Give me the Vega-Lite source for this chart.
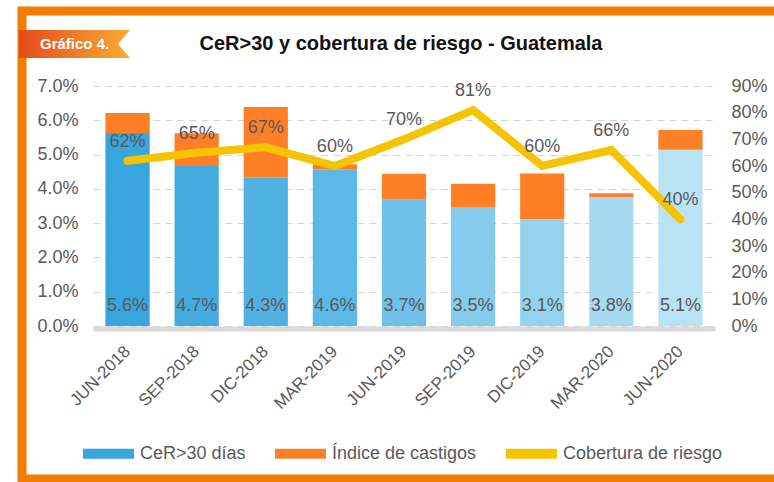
{
  "$schema": "https://vega.github.io/schema/vega-lite/v6.json",
  "width": 758,
  "height": 468,
  "autosize": {"type": "none"},
  "padding": {"left": 22, "top": 11, "right": -6, "bottom": 3},
  "background": "white",
  "config": {
    "view": {"stroke": "#f07d00", "strokeWidth": 9, "fill": "white"},
    "font": "Liberation Sans"
  },
  "title": {
    "text": "CeR>30 y cobertura de riesgo - Guatemala",
    "frame": "group",
    "anchor": "middle",
    "offset": -62,
    "dy": 20,
    "baseline": "alphabetic",
    "font": "Liberation Sans",
    "fontSize": 20,
    "fontWeight": "bold",
    "color": "#111111"
  },
  "data": {
    "values": [
      {"periodo": "JUN-2018", "cer": 0.0563, "castigos": 0.0058, "cob": 0.62},
      {"periodo": "SEP-2018", "cer": 0.0467, "castigos": 0.0095, "cob": 0.65},
      {"periodo": "DIC-2018", "cer": 0.0434, "castigos": 0.0205, "cob": 0.67},
      {"periodo": "MAR-2019", "cer": 0.0457, "castigos": 0.0015, "cob": 0.60},
      {"periodo": "JUN-2019", "cer": 0.0370, "castigos": 0.0074, "cob": 0.70},
      {"periodo": "SEP-2019", "cer": 0.0347, "castigos": 0.0068, "cob": 0.81},
      {"periodo": "DIC-2019", "cer": 0.0311, "castigos": 0.0134, "cob": 0.60},
      {"periodo": "MAR-2020", "cer": 0.0376, "castigos": 0.0011, "cob": 0.66},
      {"periodo": "JUN-2020", "cer": 0.0514, "castigos": 0.0058, "cob": 0.40}
    ]
  },
  "layer": [
    {
      "layer": [
        {
          "transform": [{"fold": ["cer", "castigos"], "as": ["serie", "valor"]}],
          "mark": {"type": "bar"},
          "encoding": {
            "x": {
              "field": "periodo",
              "type": "nominal",
              "scale": {
                "domain": ["JUN-2018", "SEP-2018", "DIC-2018", "MAR-2019", "JUN-2019", "SEP-2019", "DIC-2019", "MAR-2020", "JUN-2020"],
                "range": [71, 693],
                "paddingInner": 0.36,
                "paddingOuter": 0.18
              },
              "axis": {
                "title": null,
                "orient": "bottom",
                "offset": -150.5,
                "domainColor": "#d9d9d9",
                "domainWidth": 5,
                "ticks": false,
                "grid": false,
                "labelAngle": -45,
                "labelAlign": "right",
                "labelBaseline": "middle",
                "labelPadding": 20,
                "labelFontSize": 17,
                "labelColor": "#595959",
                "labelFont": "Liberation Sans"
              }
            },
            "y": {
              "field": "valor",
              "type": "quantitative",
              "stack": "zero",
              "scale": {"domain": [0, 0.07], "range": [315, 75], "nice": false},
              "axis": {
                "title": null,
                "orient": "left",
                "offset": -71,
                "domain": false,
                "ticks": false,
                "values": [0, 0.01, 0.02, 0.03, 0.04, 0.05, 0.06, 0.07],
                "format": ".1%",
                "labelPadding": 15,
                "labelFontSize": 18,
                "labelColor": "#595959",
                "labelFont": "Liberation Sans",
                "grid": true,
                "gridColor": "#d4d4d4",
                "gridDash": [7, 5],
                "gridWidth": 1
              }
            },
            "fill": {
              "condition": {"test": "datum.serie === 'castigos'", "value": "#fe7f26"},
              "field": "periodo",
              "type": "nominal",
              "scale": {
                "domain": ["JUN-2018", "SEP-2018", "DIC-2018", "MAR-2019", "JUN-2019", "SEP-2019", "DIC-2019", "MAR-2020", "JUN-2020"],
                "range": ["#39a5df", "#44abe1", "#50b1e3", "#5cb8e6", "#6fc1e9", "#84cbec", "#95d2ee", "#a7daf1", "#bae2f5"]
              },
              "legend": null
            },
            "order": {"field": "serie", "sort": "descending"},
            "detail": {"field": "serie"}
          }
        },
        {
          "mark": {"type": "text", "fontSize": 18, "color": "#595959", "baseline": "middle", "dy": -20.5, "font": "Liberation Sans"},
          "encoding": {
            "x": {"field": "periodo", "type": "nominal"},
            "y": {"datum": 0, "type": "quantitative"},
            "text": {"field": "cer", "type": "quantitative", "format": ".1%"}
          }
        }
      ]
    },
    {
      "layer": [
        {
          "mark": {"type": "line", "strokeWidth": 8, "strokeCap": "round", "strokeJoin": "miter"},
          "encoding": {
            "x": {"field": "periodo", "type": "nominal"},
            "y": {
              "field": "cob",
              "type": "quantitative",
              "scale": {"domain": [0, 0.9], "range": [315, 75], "nice": false},
              "axis": {
                "title": null,
                "orient": "right",
                "offset": -65,
                "domain": false,
                "ticks": false,
                "values": [0, 0.1, 0.2, 0.3, 0.4, 0.5, 0.6, 0.7, 0.8, 0.9],
                "format": ".0%",
                "labelPadding": 16,
                "labelFontSize": 18,
                "labelColor": "#595959",
                "labelFont": "Liberation Sans",
                "grid": false
              }
            },
            "color": {
              "datum": "Cobertura de riesgo",
              "type": "nominal",
              "scale": {
                "domain": ["CeR>30 días", "Índice de castigos", "Cobertura de riesgo"],
                "range": ["#3aa6df", "#fe7f26", "#f5c400"]
              },
              "legend": {
                "orient": "none",
                "legendX": 56,
                "legendY": 412,
                "direction": "horizontal",
                "title": null,
                "padding": 0,
                "symbolSize": 2601,
                "symbolType": "stroke",
                "symbolStrokeWidth": 10,
                "labelFontSize": 18,
                "labelColor": "#595959",
                "labelFont": "Liberation Sans",
                "labelOffset": 1,
                "columnPadding": 9,
                "labelLimit": 300
              }
            }
          }
        },
        {
          "mark": {"type": "text", "fontSize": 18, "color": "#595959", "baseline": "middle", "dy": -19, "font": "Liberation Sans"},
          "encoding": {
            "x": {"field": "periodo", "type": "nominal"},
            "y": {"field": "cob", "type": "quantitative"},
            "text": {"field": "cob", "type": "quantitative", "format": ".0%"}
          }
        },
        {
          "mark": {
            "type": "point",
            "filled": true,
            "size": 0,
            "opacity": 1,
            "color": {"gradient": "linear", "stops": [{"offset": 0, "color": "#e54a1d"}, {"offset": 1, "color": "#f8ad35"}]}
          },
          "encoding": {
            "x": {"field": "periodo", "type": "nominal"},
            "y": {"field": "cob", "type": "quantitative"},
            "shape": {
              "datum": "Gráfico 4.",
              "type": "nominal",
              "scale": {"range": ["M-1,-0.252H1L0.784,0L1,0.252H-1Z"]},
              "legend": {
                "orient": "none",
                "legendX": -4,
                "legendY": -23.5,
                "title": null,
                "padding": 0,
                "symbolSize": 12321,
                "labelFontSize": 15,
                "labelColor": "white",
                "labelFont": "Liberation Sans",
                "labelFontWeight": "bold",
                "labelOffset": -91,
                "labelLimit": 200
              }
            }
          }
        }
      ]
    }
  ],
  "resolve": {"scale": {"y": "independent"}}
}
